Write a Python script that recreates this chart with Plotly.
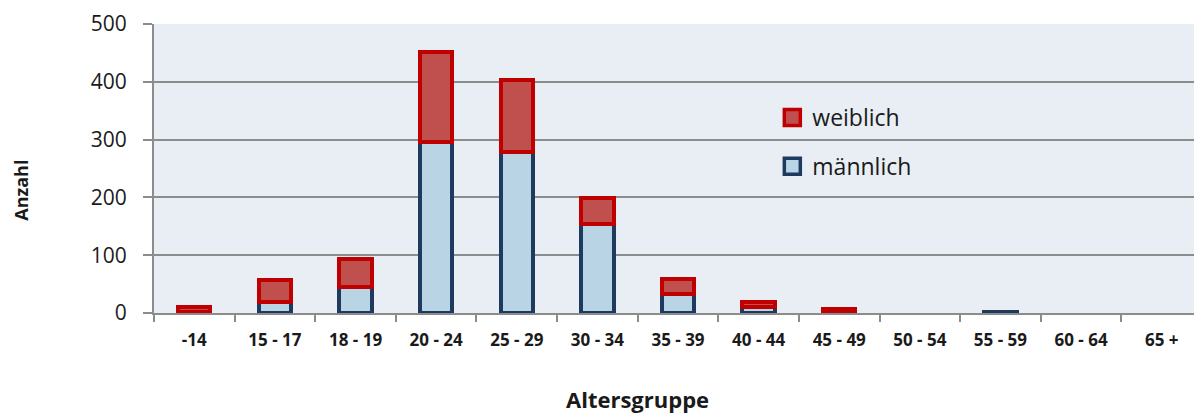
import plotly.graph_objects as go

categories = ["-14", "15 - 17", "18 - 19", "20 - 24", "25 - 29", "30 - 34", "35 - 39",
              "40 - 44", "45 - 49", "50 - 54", "55 - 59", "60 - 64", "65 +"]
maennlich = [1, 19, 45, 296, 279, 154, 33, 10, 2, 0, 2, 0, 0]
weiblich = [9, 38, 48, 156, 124, 45, 26, 9, 5, 0, 0, 0, 0]
y_ticks = [0, 100, 200, 300, 400, 500]

M_FILL, M_LINE = "#B9D5E5", "#1F3A5F"
W_FILL, W_LINE = "#C0504D", "#C00000"
FONT = "Open Sans"

# page body has an 8px margin; the figure is sized/offset to compensate
W, H = 1194, 409

fig = go.Figure()
fig.add_trace(go.Bar(x=categories, y=maennlich, name="männlich", showlegend=False,
                     marker=dict(color=M_FILL,
                                 line=dict(color=M_LINE, width=[4 if v else 0 for v in maennlich]))))
fig.add_trace(go.Bar(x=categories, y=weiblich, name="weiblich", showlegend=False,
                     marker=dict(color=W_FILL,
                                 line=dict(color=W_LINE, width=[4 if v else 0 for v in weiblich]))))
# legend entries
fig.add_trace(go.Scatter(x=[None], y=[None], mode="markers", name="weiblich", legendgroup="w",
                         marker=dict(symbol="square", size=16, color=W_FILL,
                                     line=dict(color=W_LINE, width=3.5))))
fig.add_trace(go.Scatter(x=[None], y=[None], mode="markers", name="männlich", legendgroup="m",
                         marker=dict(symbol="square", size=16, color=M_FILL,
                                     line=dict(color=M_LINE, width=3.5))))

fig.update_layout(
    width=W, height=H,
    margin=dict(l=146, r=0, t=16, b=104),
    barmode="stack", bargap=0.6,
    paper_bgcolor="white", plot_bgcolor="#E8EEF3",
    font=dict(family=FONT, color="#1a1a1a"),
    legend=dict(x=0.59, y=0.751, xanchor="left", yanchor="top",
                bgcolor="rgba(0,0,0,0)", font=dict(size=23, family=FONT),
                traceorder="grouped", tracegroupgap=16, itemsizing="trace"),
    xaxis=dict(type="category", showline=True, linecolor="#8C8C8C", linewidth=2,
               ticks="outside", tickson="boundaries", ticklen=7, tickcolor="#8C8C8C", tickwidth=2,
               tickfont=dict(size=17, family=FONT, weight="bold", color="#1a1a1a"),
               ticklabelstandoff=11, showgrid=False, fixedrange=True),
    yaxis=dict(range=[0, 500], tickvals=y_ticks, showline=True, linecolor="#8C8C8C", linewidth=2,
               ticks="outside", ticklen=9, tickcolor="#8C8C8C", tickwidth=2,
               gridcolor="#8C8C8C", gridwidth=2, zeroline=False,
               tickfont=dict(size=21, family=FONT, color="#1a1a1a"), ticklabelstandoff=12),
    annotations=[
        dict(text="Anzahl", xref="paper", yref="paper", x=-0.127, y=0.426, textangle=-90,
             xanchor="center", yanchor="middle",
             showarrow=False, font=dict(size=18, family=FONT, weight="bold")),
        dict(text="Altersgruppe", xref="paper", yref="paper", x=0.461, y=-0.297,
             xanchor="center", yanchor="middle",
             showarrow=False, font=dict(size=22, family=FONT, weight="bold")),
    ],
)

fig.write_html("out.html")
